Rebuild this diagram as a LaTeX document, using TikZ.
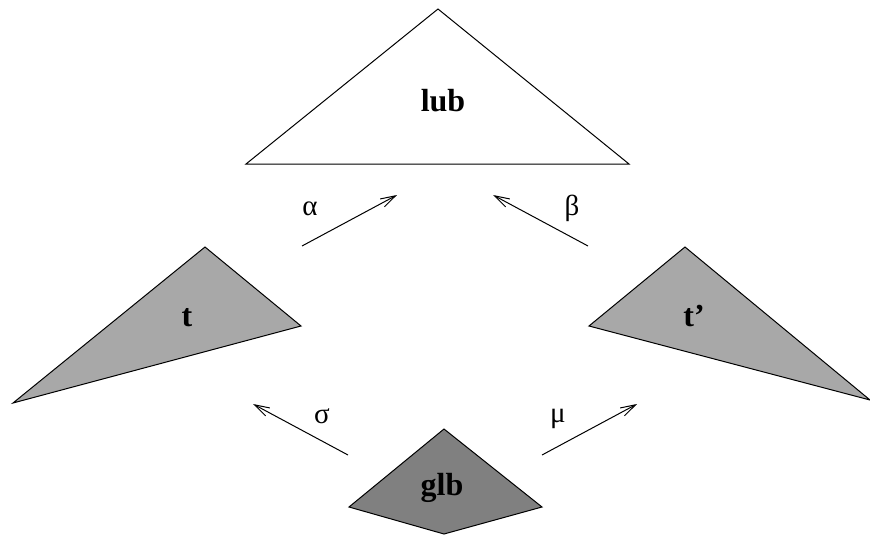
\documentclass[tikz,border=0pt]{standalone}
\usepackage{fontspec}
\setmainfont{Liberation Serif}
\usetikzlibrary{arrows.meta}
\tikzset{
  tri/.style={draw=black, line width=1pt, line join=miter},
  lightfill/.style={tri, fill={rgb,255:red,168;green,168;blue,168}},
  darkfill/.style={tri, fill={rgb,255:red,128;green,128;blue,128}},
  conn/.style={draw=black, line width=1pt, -{Straight Barb[length=15pt,width=9pt,line width=1pt]}},
  bigtext/.style={font=\fontsize{32}{32}\selectfont\bfseries, inner sep=0pt},
  greek/.style={font=\fontsize{29}{29}\selectfont, inner sep=0pt}
}
\begin{document}
\begin{tikzpicture}[x=1pt, y=-1pt]
\useasboundingbox (0,0) rectangle (870,535);
% lub
\draw[tri, fill=white] (438,9) -- (629,164) -- (246,164) -- cycle;
\node[bigtext] (lub) at (443,101) {lub};
% t
\draw[lightfill] (205,247) -- (301,326) -- (13,403) -- cycle;
\node[bigtext] (t) at (187,318) {t};
% t'
\draw[lightfill] (685,247) -- (870,400) -- (589,326) -- cycle;
\node[bigtext] (tp) at (694,316) {t’};
% glb
\draw[darkfill] (444,429) -- (542,507) -- (444,534) -- (349,507) -- cycle;
\node[bigtext] (glb) at (442,488) {glb};
% arrow ends
\coordinate (a1) at (302,246); \coordinate (a2) at (397,195);
\coordinate (b1) at (588,246); \coordinate (b2) at (493,195);
\coordinate (s1) at (348,455); \coordinate (s2) at (253,404);
\coordinate (m1) at (542,455); \coordinate (m2) at (637,404);
\draw[conn] (a1) -- (a2);
\draw[conn] (b1) -- (b2);
\draw[conn] (s1) -- (s2);
\draw[conn] (m1) -- (m2);
% labels
\node[greek] (alpha) at (310,209) {α};
\node[greek] (beta) at (572,208) {β};
\node[greek] (sigma) at (322,416) {σ};
\node[greek] (mu) at (558,419) {μ};
\end{tikzpicture}
\end{document}
